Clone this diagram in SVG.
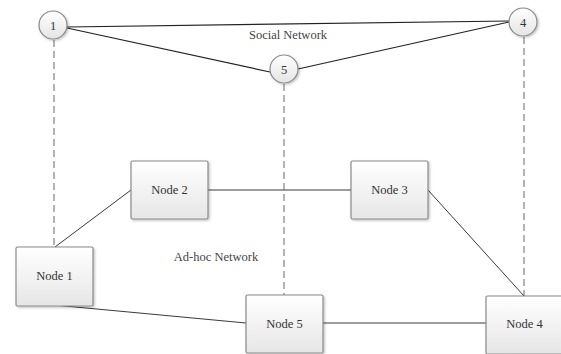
<svg xmlns="http://www.w3.org/2000/svg" width="561" height="354" viewBox="0 0 561 354">
  <defs>
    <linearGradient id="boxFill" x1="0" y1="0" x2="0" y2="1">
      <stop offset="0" stop-color="#ffffff"/>
      <stop offset="1" stop-color="#e6e6e6"/>
    </linearGradient>
    <linearGradient id="circleFill" x1="0" y1="0" x2="0" y2="1">
      <stop offset="0" stop-color="#ffffff"/>
      <stop offset="1" stop-color="#e4e4e4"/>
    </linearGradient>
    <filter id="shadow" x="-20%" y="-20%" width="150%" height="150%">
      <feDropShadow dx="1.2" dy="1.2" stdDeviation="0.8" flood-color="#000" flood-opacity="0.25"/>
    </filter>
  </defs>
  <style>
    .box { fill: url(#boxFill); stroke: #8a8a8a; stroke-width: 1.2; filter: url(#shadow); }
    .peer { fill: url(#circleFill); stroke: #8a8a8a; stroke-width: 1.2; filter: url(#shadow); }
    .label { font-family: "Liberation Serif", "Times New Roman", serif; font-size: 12.5px; fill: #333333; text-anchor: middle; }
    .title { font-family: "Liberation Serif", "Times New Roman", serif; font-size: 12.5px; fill: #444444; text-anchor: middle; }
    .link { stroke: #3a3a3a; stroke-width: 1; fill: none; }
    .social { stroke: #222222; stroke-width: 1.2; fill: none; }
    .map { stroke: #9a9a9a; stroke-width: 1.5; stroke-dasharray: 7 4; fill: none; }
  </style>
  <rect width="561" height="354" fill="#ffffff"/>

  <!-- connectors -->
  <g id="connectors">
    <!-- social links -->
    <line class="social" x1="67" y1="27" x2="509" y2="21"/>
    <line class="social" x1="67" y1="28" x2="270" y2="72"/>
    <line class="social" x1="298" y1="69" x2="509" y2="22"/>
    <!-- mapping of users to devices -->
    <line class="map" x1="54" y1="40" x2="54" y2="247"/>
    <line class="map" x1="284" y1="84" x2="284" y2="295"/>
    <line class="map" x1="524" y1="37" x2="524" y2="296"/>
    <!-- ad-hoc links -->
    <line class="link" x1="55" y1="247" x2="131" y2="190"/>
    <line class="link" x1="208" y1="190" x2="351" y2="190"/>
    <line class="link" x1="428" y1="190" x2="524" y2="296"/>
    <line class="link" x1="54" y1="305" x2="246" y2="323"/>
    <line class="link" x1="323" y1="323" x2="486" y2="323"/>
  </g>

  <text class="title" x="288" y="39">Social Network</text>
  <text class="title" x="216" y="261">Ad-hoc Network</text>

  <g id="user1">
    <circle class="peer" cx="53" cy="25" r="14"/>
    <text class="label" x="53" y="29.5">1</text>
  </g>
  <g id="user4">
    <circle class="peer" cx="523" cy="22" r="14"/>
    <text class="label" x="523" y="26.5">4</text>
  </g>
  <g id="user5">
    <circle class="peer" cx="284" cy="69" r="14"/>
    <text class="label" x="284" y="73.5">5</text>
  </g>

  <g id="node1">
    <rect class="box" x="16" y="247" width="77" height="59" rx="1.5"/>
    <text class="label" x="54.5" y="280">Node 1</text>
  </g>
  <g id="node2">
    <rect class="box" x="131" y="161" width="77" height="58" rx="1.5"/>
    <text class="label" x="169.5" y="194">Node 2</text>
  </g>
  <g id="node3">
    <rect class="box" x="351" y="161" width="77" height="58" rx="1.5"/>
    <text class="label" x="389.5" y="194">Node 3</text>
  </g>
  <g id="node5">
    <rect class="box" x="246" y="295" width="77" height="58" rx="1.5"/>
    <text class="label" x="284.5" y="328">Node 5</text>
  </g>
  <g id="node4">
    <rect class="box" x="486" y="296" width="77" height="58" rx="1.5"/>
    <text class="label" x="524.5" y="328">Node 4</text>
  </g>
</svg>
